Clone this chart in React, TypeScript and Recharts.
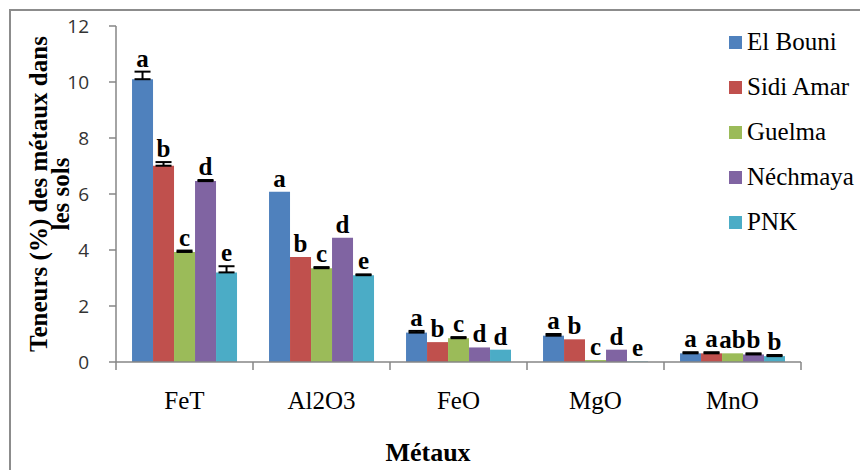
import { BarChart, Bar, XAxis, YAxis, ErrorBar, LabelList } from "recharts";

const categories = ["FeT", "Al2O3", "FeO", "MgO", "MnO"];
const sites = ["El Bouni", "Sidi Amar", "Guelma", "Néchmaya", "PNK"];
const colors = ["#4F81BD", "#C0504D", "#9BBB59", "#8064A2", "#4BACC6"];

// teneurs (%) par site, dans l'ordre des catégories
const elBouni = [10.1, 6.08, 1.05, 0.94, 0.31];
const sidiAmar = [7.01, 3.75, 0.71, 0.81, 0.31];
const guelma = [3.93, 3.35, 0.85, 0.07, 0.31];
const nechmaya = [6.46, 4.44, 0.52, 0.44, 0.27];
const pnk = [3.2, 3.1, 0.44, 0.02, 0.21];

// écarts (barre d'erreur vers le haut)
const errElBouni = [0.27, 0, 0.06, 0.06, 0.04];
const errSidiAmar = [0.13, 0, 0, 0, 0.04];
const errGuelma = [0.05, 0.04, 0.04, 0, 0];
const errNechmaya = [0.04, 0, 0, 0, 0.04];
const errPnk = [0.22, 0.03, 0, 0, 0.04];

// lettres de significativité
const letElBouni = ["a", "a", "a", "a", "a"];
const letSidiAmar = ["b", "b", "b", "b", "a"];
const letGuelma = ["c", "c", "c", "c", "ab"];
const letNechmaya = ["d", "d", "d", "d", "b"];
const letPnk = ["e", "e", "d", "e", "b"];

const yTicks = [0, 2, 4, 6, 8, 10, 12];

const values = [elBouni, sidiAmar, guelma, nechmaya, pnk];
const errors = [errElBouni, errSidiAmar, errGuelma, errNechmaya, errPnk];
const letters = [letElBouni, letSidiAmar, letGuelma, letNechmaya, letPnk];

const data = categories.map((cat, i) => {
  const row: any = { name: cat };
  values.forEach((v, s) => {
    row["s" + s] = v[i];
    row["e" + s] = errors[s][i] ? [0, errors[s][i]] : null;
    row["l" + s] = letters[s][i];
  });
  return row;
});

const serif = "Liberation Serif, DejaVu Serif, serif";

const makeLetter = (s: number) => (props: any) => {
  const { x, y, width, height, value, index } = props;
  const v = values[s][index];
  const ppu = v ? height / v : 0;
  const err = errors[s][index] || 0;
  const by = y - err * ppu - 5;
  return (
    <text
      x={x + width / 2}
      y={by}
      textAnchor="middle"
      fontFamily={serif}
      fontWeight="bold"
      fontSize={25}
      fill="#000"
    >
      {value}
    </text>
  );
};

const XTick = (props: any) => {
  const { x, y, payload, index } = props;
  const half = payload.offset || 0;
  return (
    <g>
      <line x1={x - half} x2={x - half} y1={y - 8} y2={y} stroke="#868686" strokeWidth={1.5} />
      {index === categories.length - 1 && (
        <line x1={x + half} x2={x + half} y1={y - 8} y2={y} stroke="#868686" strokeWidth={1.5} />
      )}
      <text x={x} y={y + 39} textAnchor="middle" fontFamily={serif} fontSize={25} fill="#000">
        {payload.value}
      </text>
    </g>
  );
};

const YTitle = () => (
  <text
    transform="translate(47,194) rotate(-90)"
    textAnchor="middle"
    fontFamily={serif}
    fontWeight="bold"
    fontSize={25}
    fill="#000"
  >
    <tspan x={0} y={0}>Teneurs (%) des métaux dans</tspan>
    <tspan x={0} y={22}>les sols</tspan>
  </text>
);

const XTitle = () => (
  <text x={428} y={461} textAnchor="middle" fontFamily={serif} fontWeight="bold" fontSize={26} fill="#000">
    Métaux
  </text>
);

export default function App() {
  return (
    <div style={{ position: "fixed", left: 0, top: 0, width: 860, height: 470, background: "#fff", overflow: "hidden" }}>
      <div
        style={{
          position: "absolute",
          left: 9,
          top: 9,
          width: 900,
          height: 520,
          border: "2.5px solid #8c8c8c",
          boxSizing: "border-box",
        }}
      />
      <div style={{ position: "absolute", left: 0, top: 0 }}>
        <BarChart
          width={860}
          height={470}
          data={data}
          margin={{ top: 26, right: 59, bottom: 48, left: 0 }}
          barCategoryGap="11.7%"
          barGap={0}
        >
          <XAxis
            dataKey="name"
            height={60}
            axisLine={{ stroke: "#868686", strokeWidth: 1.5 }}
            tickLine={false}
            tickSize={8}
            tickMargin={0}
            tick={<XTick />}
            interval={0}
            label={<XTitle />}
          />
          <YAxis
            width={116}
            domain={[0, 12]}
            ticks={yTicks}
            interval={0}
            axisLine={{ stroke: "#868686", strokeWidth: 1.5 }}
            tickLine={{ stroke: "#868686", strokeWidth: 1.5 }}
            tickSize={7}
            tickMargin={20}
            tick={{ fontFamily: "Open Sans, sans-serif", fontSize: 19, fill: "#333" }}
            label={<YTitle />}
          />
          {sites.map((site, s) => (
            <Bar key={site} dataKey={"s" + s} name={site} fill={colors[s]} isAnimationActive={false}>
              <ErrorBar dataKey={"e" + s} width={8} stroke="#000" strokeWidth={2} direction="y" />
              <LabelList dataKey={"l" + s} content={makeLetter(s)} />
            </Bar>
          ))}
        </BarChart>
      </div>
      <div style={{ position: "absolute", left: 729, top: 26 }}>
        {sites.map((site, s) => (
          <div key={site} style={{ position: "absolute", left: 0, top: s * 45, display: "flex", alignItems: "center", height: 32, whiteSpace: "nowrap" }}>
            <div style={{ width: 13, height: 13, background: colors[s], marginRight: 5 }} />
            <span style={{ fontFamily: serif, fontSize: 25, color: "#000" }}>{site}</span>
          </div>
        ))}
      </div>
    </div>
  );
}
